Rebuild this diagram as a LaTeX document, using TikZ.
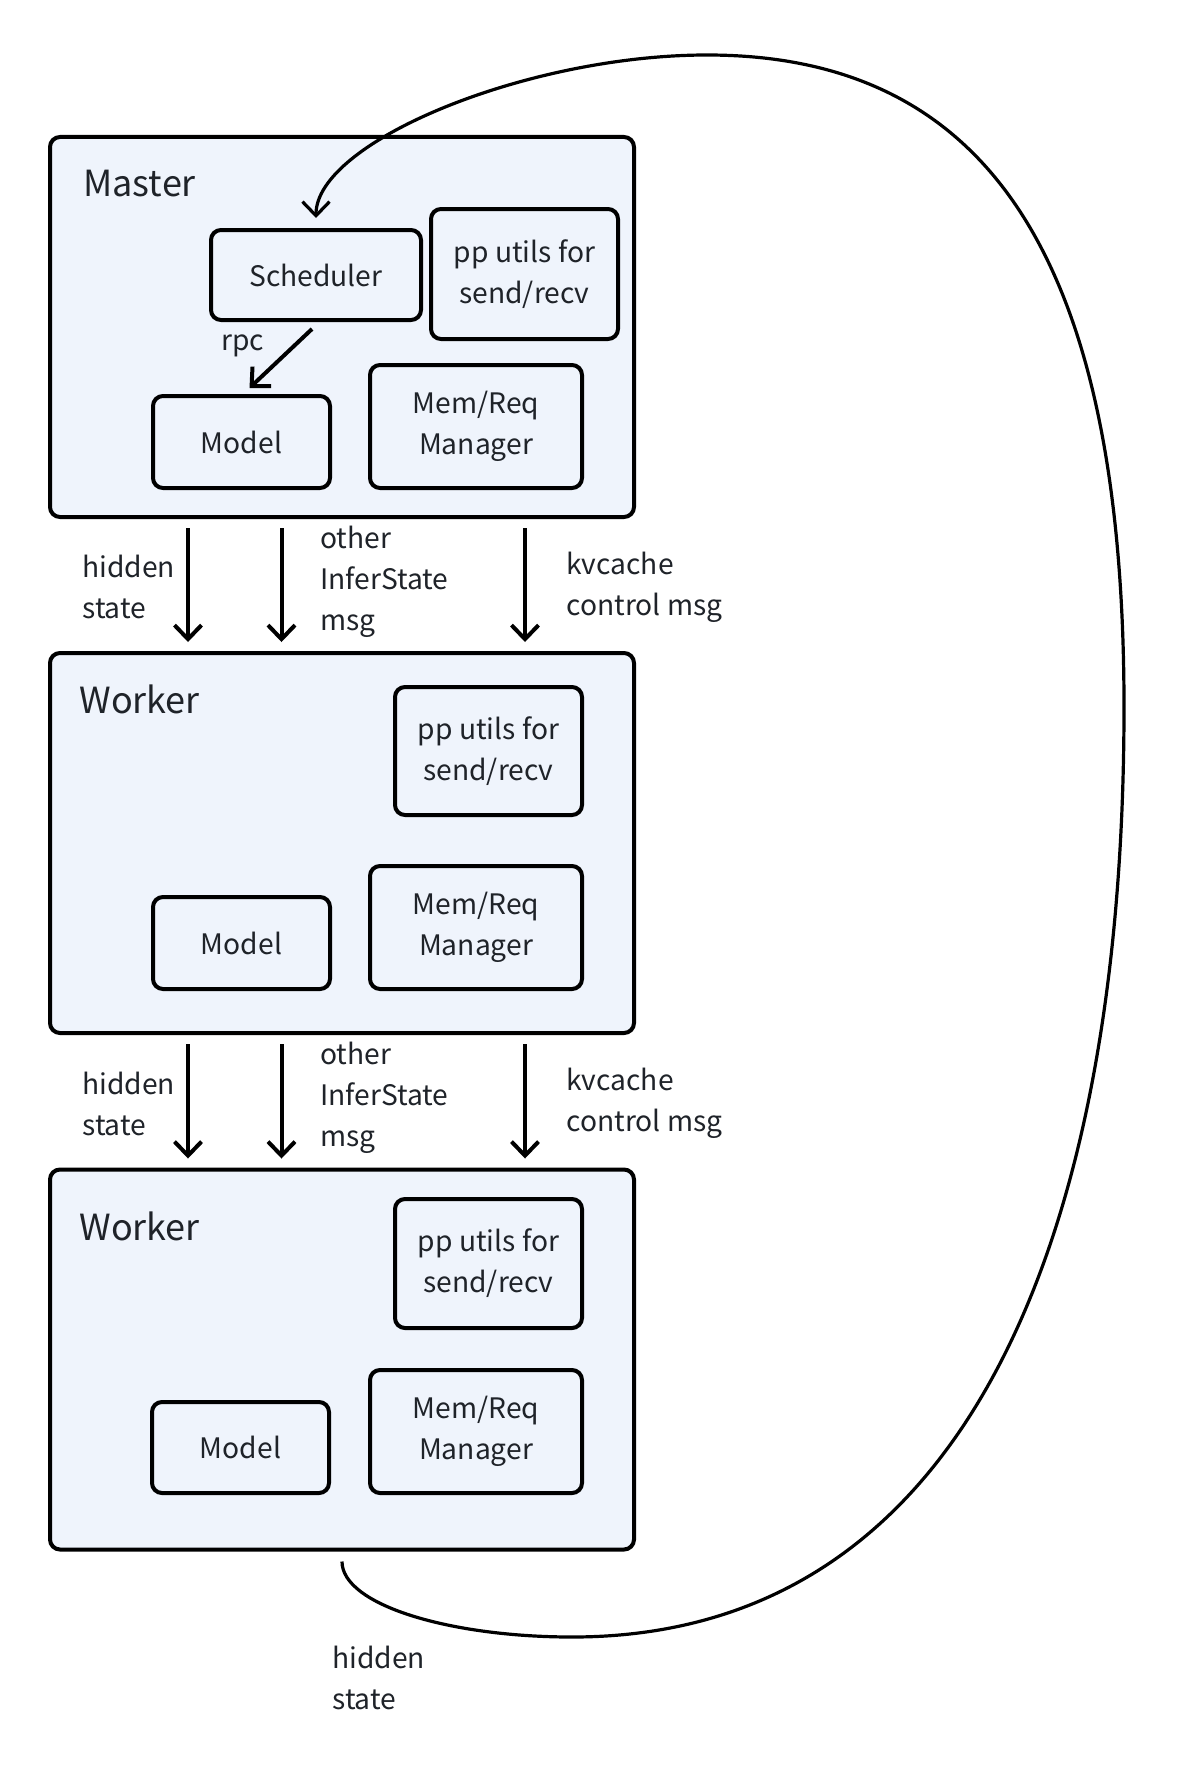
\documentclass[tikz,border=0pt]{standalone}
\usepackage{fontspec}
\setmainfont{Noto Sans CJK SC}
\usetikzlibrary{arrows.meta}
\definecolor{stageFill}{HTML}{EFF4FC}
\definecolor{textDark}{HTML}{1F2329}

\tikzset{
  stage/.style={draw=black, line width=2pt, fill=stageFill, rounded corners=5pt,
    minimum width=292pt, minimum height=190pt},
  part/.style={draw=black, line width=2pt, fill=stageFill, rounded corners=5pt,
    text=textDark, align=center, inner sep=0pt},
  title/.style={text=textDark, anchor=west, inner sep=0pt, font=\fontsize{18}{22}\selectfont},
  tag/.style={text=textDark, anchor=west, align=left, inner sep=0pt},
  flow/.style={line width=2pt, -{Straight Barb[length=7pt,width=13.5pt]}},
}

\begin{document}
\begin{tikzpicture}[x=0.5pt, y=-0.5pt, font=\fontsize{14.1}{20.5}\selectfont]
  \useasboundingbox (0,0) rectangle (1188,1766);

  % master stage
  \node[stage] (master) at (342,327) {};
  \node[title] (masterTitle) at (83,184) {Master};
  \node[part, minimum width=105pt, minimum height=45pt] (scheduler) at (316,275) {Scheduler};
  \node[part, minimum width=93.5pt, minimum height=65pt] (ppMaster) at (524.5,274) {pp utils for\\send/recv};
  \node[part, minimum width=88.5pt, minimum height=46pt] (modelMaster) at (241.5,442) {Model};
  \node[part, minimum width=106pt, minimum height=61.5pt] (memMaster) at (476,426.5) {Mem/Req\\Manager};
  \draw[flow] ([xshift=-2pt,yshift=-3.5pt]scheduler.south) -- ([xshift=4pt,yshift=3pt]modelMaster.north);
  \node[tag] (rpcTag) at (221,346) {rpc};

  % first worker stage
  \node[stage] (workerA) at (342,843) {};
  \node[title] (workerATitle) at (79,699) {Worker};
  \node[part, minimum width=93.5pt, minimum height=64pt] (ppWorkerA) at (488.5,751) {pp utils for\\send/recv};
  \node[part, minimum width=88.5pt, minimum height=46pt] (modelWorkerA) at (241.5,943) {Model};
  \node[part, minimum width=106pt, minimum height=61.5pt] (memWorkerA) at (476,927.5) {Mem/Req\\Manager};

  % second worker stage
  \node[stage] (workerB) at (342,1359.5) {};
  \node[title] (workerBTitle) at (79,1226) {Worker};
  \node[part, minimum width=93.5pt, minimum height=64.5pt] (ppWorkerB) at (488.5,1263.5) {pp utils for\\send/recv};
  \node[part, minimum width=88.5pt, minimum height=45.5pt] (modelWorkerB) at (240.5,1447.5) {Model};
  \node[part, minimum width=106pt, minimum height=61.5pt] (memWorkerB) at (476,1431.5) {Mem/Req\\Manager};

  % stage to stage messages
  \foreach \from/\to in {master/workerA, workerA/workerB}{
    \foreach \dx in {-77pt, -30.25pt, 91.5pt}{
      \draw[flow] ([xshift=\dx,yshift=-4.5pt]\from.south) -- ([xshift=\dx,yshift=4.5pt]\to.north);
    }
  }
  \node[tag] (hiddenA) at (82,587) {hidden\\state};
  \node[tag] (otherA) at (320,582) {other\\InferState\\msg};
  \node[tag] (kvA) at (566,587) {kvcache\\control msg};
  \node[tag] (hiddenB) at (82,1103.5) {hidden\\state};
  \node[tag] (otherB) at (320,1098) {other\\InferState\\msg};
  \node[tag] (kvB) at (566,1103.5) {kvcache\\control msg};

  % loop back to the scheduler
  \draw[flow, line width=1.6pt] ([yshift=-5pt]workerB.south)
    .. controls (342,1605) and (450,1637) .. (572,1637)
    .. controls (960,1637) and (1124,1250) .. (1124,707)
    .. controls (1124,257) and (987,55) .. (707,55)
    .. controls (527,55) and (316,142) .. ([yshift=5pt]scheduler.north);
  \node[tag] (hiddenLoop) at (332,1677.5) {hidden\\state};
\end{tikzpicture}
\end{document}
